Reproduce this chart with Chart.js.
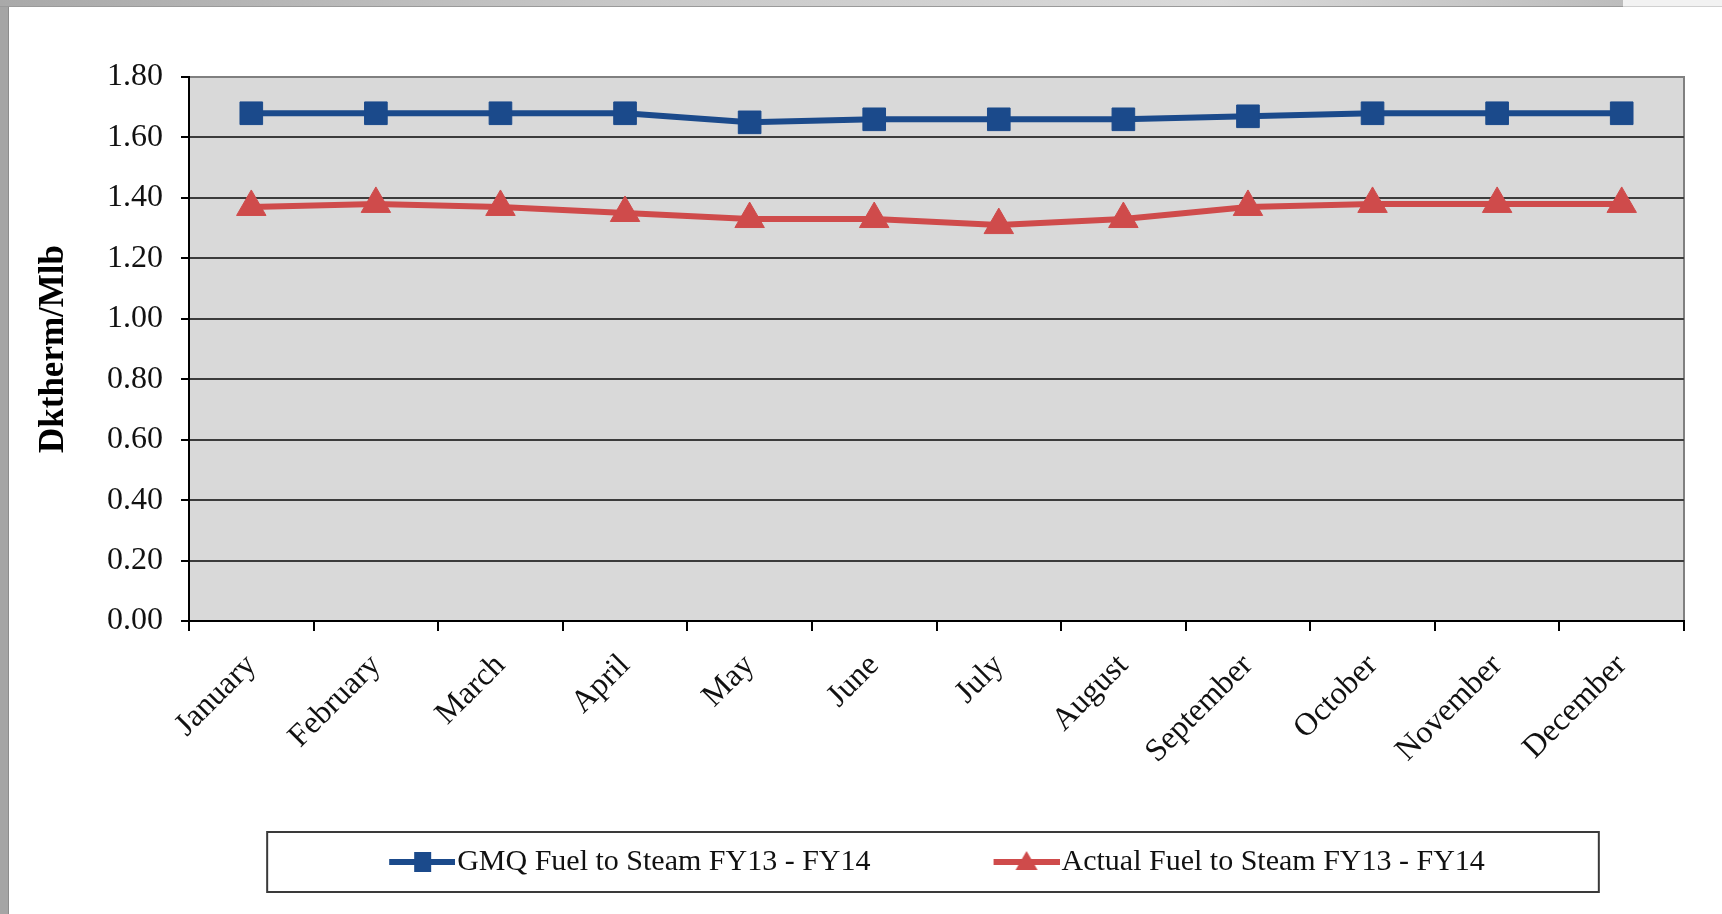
<!DOCTYPE html>
<html>
<head>
<meta charset="utf-8">
<script src="https://cdn.jsdelivr.net/npm/chart.js@4.4.1/dist/chart.umd.min.js"></script>
<style>
  html, body { margin: 0; padding: 0; background: #fff; overflow: hidden; }
  #frameLeft { position: absolute; left: 0; top: 0; width: 8px; height: 914px; background: #a5a5a5; border-right: 1px solid #8c8c8c; }
  #frameTop { position: absolute; left: 0; top: 0; width: 1623px; height: 6px; background: linear-gradient(to right, #a9a9a9, #c9c9c9 40%, #dadada 75%, #bdbdbd); border-bottom: 1px solid #9a9a9a; }
  #frameTopRight { position: absolute; left: 1623px; top: 0; width: 99px; height: 6px; background: #f2f2f2; border-bottom: 1px solid #d0d0d0; }
  #wrap { position: absolute; left: 0; top: 0; width: 1722px; height: 914px; }
</style>
</head>
<body>
<div id="frameLeft"></div>
<div id="frameTop"></div>
<div id="frameTopRight"></div>
<div id="wrap"><canvas id="fuelChart"></canvas></div>
<script>
// dados
const months = ['January', 'February', 'March', 'April', 'May', 'June', 'July',
  'August', 'September', 'October', 'November', 'December'];
const gmqFuel = [1.68, 1.68, 1.68, 1.68, 1.65, 1.66, 1.66, 1.66, 1.67, 1.68, 1.68, 1.68];
const actualFuel = [1.37, 1.38, 1.37, 1.35, 1.33, 1.33, 1.31, 1.33, 1.37, 1.38, 1.38, 1.38];
const seriesNames = ['GMQ Fuel to Steam FY13 - FY14', 'Actual Fuel to Steam FY13 - FY14'];
const yMin = 0;
const yMax = 1.8;
const yStep = 0.2;

const blue = '#1b4a8b';
const red = '#cf4b4b';
const serif = '"Liberation Serif", "Times New Roman", serif';
const legendBox = 54;

// marcador da legenda: linha com o símbolo no meio (encostado ao texto)
function legendMarker(color, shape) {
  const c = document.createElement('canvas');
  c.width = legendBox + 26;
  c.height = 30;
  const g = c.getContext('2d');
  const x0 = c.width - 66;
  g.strokeStyle = color;
  g.lineWidth = 6;
  g.beginPath();
  g.moveTo(x0, 15);
  g.lineTo(c.width, 15);
  g.stroke();
  g.fillStyle = color;
  const cx = x0 + 33;
  if (shape === 'rect') {
    g.fillRect(cx - 8, 5, 17, 20);
  } else {
    g.beginPath();
    g.moveTo(cx, 4);
    g.lineTo(cx + 11, 23);
    g.lineTo(cx - 11, 23);
    g.closePath();
    g.fill();
  }
  return c;
}

const markers = [legendMarker(blue, 'rect'), legendMarker(red, 'triangle')];

// fundo cinza da área do gráfico
const plotBackground = {
  id: 'plotBackground',
  beforeDraw(chart) {
    const { ctx, chartArea: a } = chart;
    ctx.save();
    ctx.fillStyle = '#d9d9d9';
    ctx.fillRect(a.left, a.top, a.right - a.left, a.bottom - a.top);
    ctx.strokeStyle = '#808080';
    ctx.lineWidth = 2;
    ctx.strokeRect(a.left, a.top, a.right - a.left, a.bottom - a.top);
    ctx.restore();
  }
};

// moldura da legenda
const legendFrame = {
  id: 'legendFrame',
  afterDraw(chart) {
    const hb = chart.legend.legendHitBoxes;
    if (!hb || hb.length < 2) return;
    const ctx = chart.ctx;
    const left = hb[0].left + legendBox - 53 - 122;
    const right = hb[1].left + hb[1].width + 114;
    const cy = hb[0].top + hb[0].height / 2;
    ctx.save();
    ctx.strokeStyle = '#3a3a3a';
    ctx.lineWidth = 2;
    ctx.strokeRect(left, cy - 30, right - left, 60);
    ctx.restore();
  }
};

const data = {
  labels: months,
  datasets: [
    {
      label: seriesNames[0],
      data: gmqFuel,
      borderColor: blue,
      backgroundColor: blue,
      borderWidth: 6,
      pointStyle: 'rect',
      pointRadius: 16,
      pointBorderWidth: 1,
      pointBackgroundColor: blue,
      pointBorderColor: blue
    },
    {
      label: seriesNames[1],
      data: actualFuel,
      borderColor: red,
      backgroundColor: red,
      borderWidth: 6,
      pointStyle: 'triangle',
      pointRadius: 17,
      pointBorderWidth: 1,
      pointBackgroundColor: red,
      pointBorderColor: red
    }
  ]
};

const config = {
  type: 'line',
  data: data,
  plugins: [plotBackground, legendFrame],
  options: {
    responsive: true,
    maintainAspectRatio: false,
    animation: false,
    layout: { padding: { left: 0, right: 38, top: 77, bottom: 27 } },
    scales: {
      x: {
        offset: true,
        afterFit: (s) => { s.height = 160; },
        grid: {
          offset: true,
          drawOnChartArea: false,
          drawTicks: true,
          tickLength: 10,
          tickColor: '#000',
          lineWidth: 2
        },
        border: { color: '#000', width: 2 },
        ticks: {
          autoSkip: false,
          minRotation: 45,
          maxRotation: 45,
          padding: 16,
          color: '#111',
          font: { family: serif, size: 32 }
        }
      },
      y: {
        min: yMin,
        max: yMax,
        afterFit: (s) => { s.width = 189; },
        grid: {
          color: (c) => (c.tick && c.tick.value >= yMax - 1e-9 ? '#808080' : '#3c3c3c'),
          lineWidth: 2,
          tickLength: 8,
          tickColor: '#000'
        },
        border: { color: '#000', width: 2 },
        ticks: {
          stepSize: yStep,
          padding: 18,
          color: '#111',
          font: { family: serif, size: 32 },
          callback: (v) => Number(v).toFixed(2)
        },
        title: {
          display: true,
          text: 'Dktherm/Mlb',
          color: '#000',
          padding: { top: 33, bottom: 4 },
          font: { family: serif, size: 35, weight: 'bold' }
        }
      }
    },
    plugins: {
      legend: {
        position: 'bottom',
        fullSize: false,
        // título vazio com recuo negativo: só para aproximar a legenda do eixo
        title: {
          display: true,
          text: '',
          font: { size: 10 },
          padding: { top: 0, bottom: -68 }
        },
        labels: {
          usePointStyle: true,
          pointStyleWidth: legendBox,
          padding: 122,
          color: '#111',
          font: { family: serif, size: 30 },
          generateLabels: (chart) => {
            const items = Chart.defaults.plugins.legend.labels.generateLabels(chart);
            items.forEach((it, i) => { it.pointStyle = markers[i]; });
            return items;
          }
        }
      },
      tooltip: { enabled: false }
    }
  }
};

new Chart(document.getElementById('fuelChart').getContext('2d'), config);
</script>
</body>
</html>
